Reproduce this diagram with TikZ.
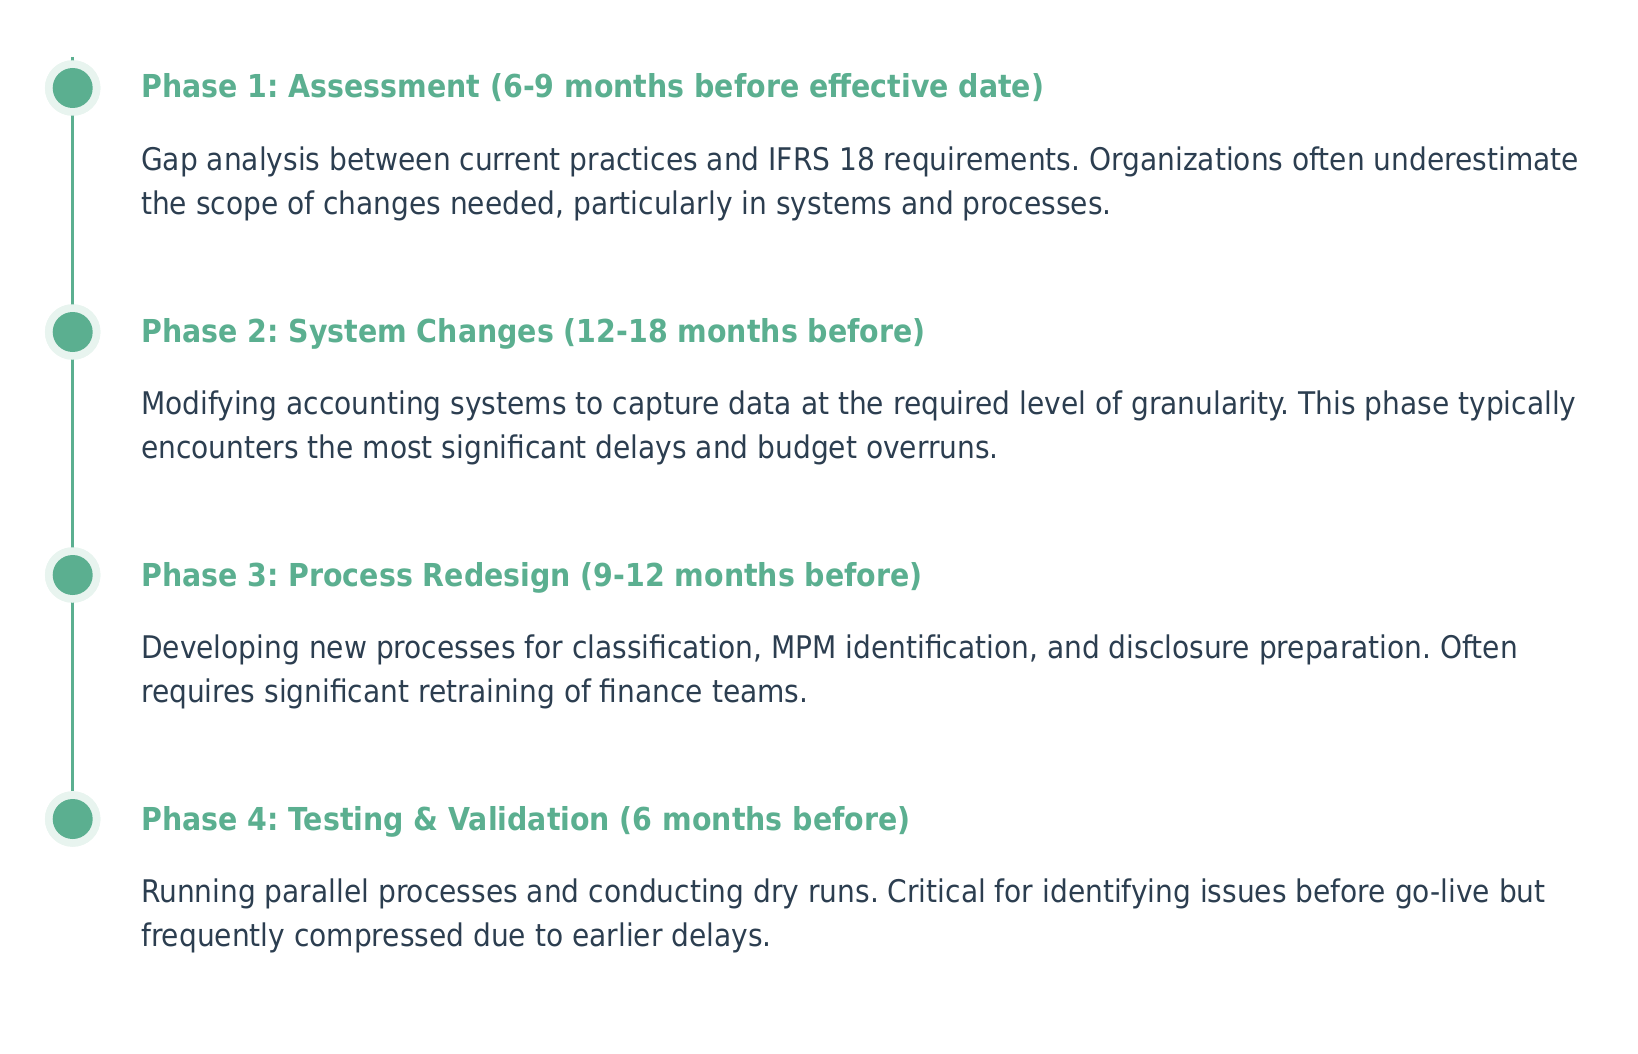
\documentclass[tikz,border=0pt]{standalone}
\usepackage{fontspec}
\setmainfont{DejaVu Sans Condensed}
\definecolor{tlgreen}{HTML}{5BAF90}
\definecolor{tlhalo}{HTML}{E8F4EF}
\definecolor{tltext}{HTML}{2C3E50}
\begin{document}
\frenchspacing
\begin{tikzpicture}[x=1pt,y=-1pt,
  halo/.style={circle,fill=tlhalo,minimum size=55.5pt,inner sep=0pt},
  dot/.style={circle,fill=tlgreen,minimum size=40pt,inner sep=0pt},
  phasetitle/.style={anchor=base west,inner sep=0pt,text=tlgreen,font=\fontsize{31.6}{36}\selectfont\bfseries\frenchspacing},
  phasebody/.style={anchor=base west,inner sep=0pt,text=tltext,font=\fontsize{31.2}{36}\selectfont\frenchspacing},
  spine/.style={draw=tlgreen,line width=3.3pt}]
\useasboundingbox (0,0) rectangle (1638,1054);
\coordinate (top) at (72.7,57);
\node[halo] (h1) at (72.7,88) {};
\node[halo] (h2) at (72.7,332) {};
\node[halo] (h3) at (72.7,575) {};
\node[halo] (h4) at (72.7,819) {};
\draw[spine] (top) -- (h4.north);
\foreach \i in {1,2,3,4} {
  \node[halo] at (h\i) {};
  \node[dot] (d\i) at (h\i) {};
}
\node[phasetitle] (t1) at (141,98) {Phase 1: Assessment (6-9 months before effective date)};
\node[phasebody] (b1a) at (141,170) {Gap analysis between current practices and IFRS 18 requirements. Organizations often underestimate};
\node[phasebody] (b1b) at (141,214) {the scope of changes needed, particularly in systems and processes.};
\node[phasetitle] (t2) at (141,342) {Phase 2: System Changes (12-18 months before)};
\node[phasebody] (b2a) at (141,414) {Modifying accounting systems to capture data at the required level of granularity. This phase typically};
\node[phasebody] (b2b) at (141,458) {encounters the most significant delays and budget overruns.};
\node[phasetitle] (t3) at (141,586) {Phase 3: Process Redesign (9-12 months before)};
\node[phasebody] (b3a) at (141,658) {Developing new processes for classification, MPM identification, and disclosure preparation. Often};
\node[phasebody] (b3b) at (141,702) {requires significant retraining of finance teams.};
\node[phasetitle] (t4) at (141,830) {Phase 4: Testing \& Validation (6 months before)};
\node[phasebody] (b4a) at (141,902) {Running parallel processes and conducting dry runs. Critical for identifying issues before go-live but};
\node[phasebody] (b4b) at (141,946) {frequently compressed due to earlier delays.};
\end{tikzpicture}
\end{document}
